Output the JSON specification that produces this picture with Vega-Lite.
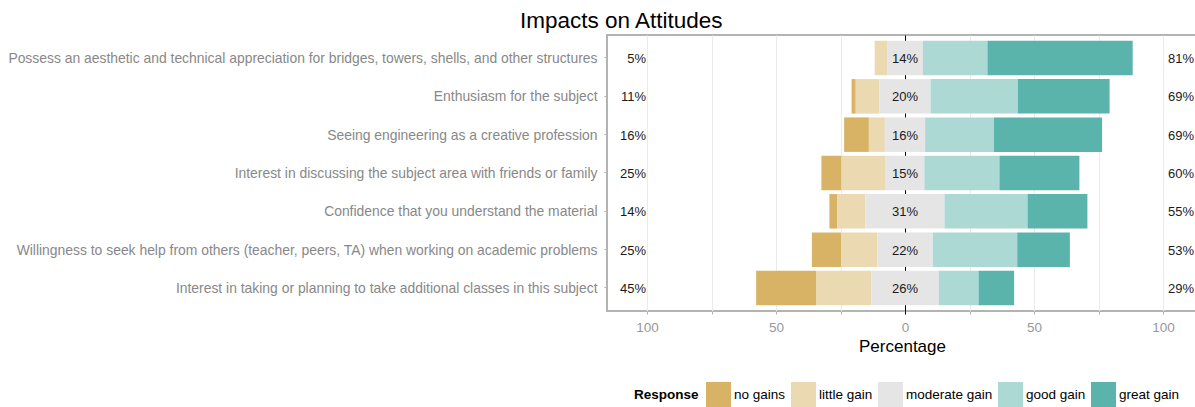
{
  "$schema": "https://vega.github.io/schema/vega-lite/v6.json",
  "autosize": "none",
  "width": 590,
  "height": 276,
  "padding": {"left": 607, "top": 35, "right": 0, "bottom": 96},
  "background": "white",
  "title": {
    "text": "Impacts on Attitudes",
    "anchor": "start",
    "frame": "group",
    "dx": -87,
    "offset": -15,
    "baseline": "alphabetic",
    "fontSize": 22.5,
    "fontWeight": "normal",
    "color": "black"
  },
  "config": {
    "font": "Liberation Sans",
    "view": {"stroke": "#B3B3B3", "strokeWidth": 2},
    "legend": {
      "orient": "none",
      "legendX": 27,
      "legendY": 347,
      "direction": "horizontal",
      "titleOrient": "left",
      "symbolType": "square",
      "symbolSize": 625,
      "symbolStrokeWidth": 0,
      "symbolOpacity": 1,
      "labelFontSize": 13.5,
      "titleFontSize": 13.5,
      "labelOffset": 3,
      "columnPadding": 5,
      "titlePadding": 7,
      "labelColor": "black",
      "titleColor": "black",
      "titleFontWeight": "bold"
    }
  },
  "datasets": {
    "bars": [
      {"Item": "Possess an aesthetic and technical appreciation for bridges, towers, shells, and other structures", "Response": "no gains", "Level": 1, "Percent": 0},
      {"Item": "Possess an aesthetic and technical appreciation for bridges, towers, shells, and other structures", "Response": "little gain", "Level": 2, "Percent": -4.8},
      {"Item": "Possess an aesthetic and technical appreciation for bridges, towers, shells, and other structures", "Response": "moderate gain", "Level": 3, "Percent": -6.95},
      {"Item": "Possess an aesthetic and technical appreciation for bridges, towers, shells, and other structures", "Response": "moderate gain", "Level": 3, "Percent": 6.95},
      {"Item": "Possess an aesthetic and technical appreciation for bridges, towers, shells, and other structures", "Response": "good gain", "Level": 4, "Percent": 25.0},
      {"Item": "Possess an aesthetic and technical appreciation for bridges, towers, shells, and other structures", "Response": "great gain", "Level": 5, "Percent": 56.3},

      {"Item": "Enthusiasm for the subject", "Response": "no gains", "Level": 1, "Percent": -1.6},
      {"Item": "Enthusiasm for the subject", "Response": "little gain", "Level": 2, "Percent": -9.2},
      {"Item": "Enthusiasm for the subject", "Response": "moderate gain", "Level": 3, "Percent": -9.9},
      {"Item": "Enthusiasm for the subject", "Response": "moderate gain", "Level": 3, "Percent": 9.9},
      {"Item": "Enthusiasm for the subject", "Response": "good gain", "Level": 4, "Percent": 33.8},
      {"Item": "Enthusiasm for the subject", "Response": "great gain", "Level": 5, "Percent": 35.6},

      {"Item": "Seeing engineering as a creative profession", "Response": "no gains", "Level": 1, "Percent": -9.6},
      {"Item": "Seeing engineering as a creative profession", "Response": "little gain", "Level": 2, "Percent": -6.2},
      {"Item": "Seeing engineering as a creative profession", "Response": "moderate gain", "Level": 3, "Percent": -7.8},
      {"Item": "Seeing engineering as a creative profession", "Response": "moderate gain", "Level": 3, "Percent": 7.8},
      {"Item": "Seeing engineering as a creative profession", "Response": "good gain", "Level": 4, "Percent": 26.7},
      {"Item": "Seeing engineering as a creative profession", "Response": "great gain", "Level": 5, "Percent": 41.9},

      {"Item": "Interest in discussing the subject area with friends or family", "Response": "no gains", "Level": 1, "Percent": -7.8},
      {"Item": "Interest in discussing the subject area with friends or family", "Response": "little gain", "Level": 2, "Percent": -17.1},
      {"Item": "Interest in discussing the subject area with friends or family", "Response": "moderate gain", "Level": 3, "Percent": -7.5},
      {"Item": "Interest in discussing the subject area with friends or family", "Response": "moderate gain", "Level": 3, "Percent": 7.5},
      {"Item": "Interest in discussing the subject area with friends or family", "Response": "good gain", "Level": 4, "Percent": 29.1},
      {"Item": "Interest in discussing the subject area with friends or family", "Response": "great gain", "Level": 5, "Percent": 31.0},

      {"Item": "Confidence that you understand the material", "Response": "no gains", "Level": 1, "Percent": -3.1},
      {"Item": "Confidence that you understand the material", "Response": "little gain", "Level": 2, "Percent": -10.9},
      {"Item": "Confidence that you understand the material", "Response": "moderate gain", "Level": 3, "Percent": -15.3},
      {"Item": "Confidence that you understand the material", "Response": "moderate gain", "Level": 3, "Percent": 15.3},
      {"Item": "Confidence that you understand the material", "Response": "good gain", "Level": 4, "Percent": 32.2},
      {"Item": "Confidence that you understand the material", "Response": "great gain", "Level": 5, "Percent": 23.2},

      {"Item": "Willingness to seek help from others (teacher, peers, TA) when working on academic problems", "Response": "no gains", "Level": 1, "Percent": -11.3},
      {"Item": "Willingness to seek help from others (teacher, peers, TA) when working on academic problems", "Response": "little gain", "Level": 2, "Percent": -14.0},
      {"Item": "Willingness to seek help from others (teacher, peers, TA) when working on academic problems", "Response": "moderate gain", "Level": 3, "Percent": -10.8},
      {"Item": "Willingness to seek help from others (teacher, peers, TA) when working on academic problems", "Response": "moderate gain", "Level": 3, "Percent": 10.8},
      {"Item": "Willingness to seek help from others (teacher, peers, TA) when working on academic problems", "Response": "good gain", "Level": 4, "Percent": 32.7},
      {"Item": "Willingness to seek help from others (teacher, peers, TA) when working on academic problems", "Response": "great gain", "Level": 5, "Percent": 20.4},

      {"Item": "Interest in taking or planning to take additional classes in this subject", "Response": "no gains", "Level": 1, "Percent": -23.2},
      {"Item": "Interest in taking or planning to take additional classes in this subject", "Response": "little gain", "Level": 2, "Percent": -21.4},
      {"Item": "Interest in taking or planning to take additional classes in this subject", "Response": "moderate gain", "Level": 3, "Percent": -13.1},
      {"Item": "Interest in taking or planning to take additional classes in this subject", "Response": "moderate gain", "Level": 3, "Percent": 13.1},
      {"Item": "Interest in taking or planning to take additional classes in this subject", "Response": "good gain", "Level": 4, "Percent": 15.4},
      {"Item": "Interest in taking or planning to take additional classes in this subject", "Response": "great gain", "Level": 5, "Percent": 13.8}
    ],
    "labels": [
      {"Item": "Possess an aesthetic and technical appreciation for bridges, towers, shells, and other structures", "Low": "5%", "Neutral": "14%", "High": "81%"},
      {"Item": "Enthusiasm for the subject", "Low": "11%", "Neutral": "20%", "High": "69%"},
      {"Item": "Seeing engineering as a creative profession", "Low": "16%", "Neutral": "16%", "High": "69%"},
      {"Item": "Interest in discussing the subject area with friends or family", "Low": "25%", "Neutral": "15%", "High": "60%"},
      {"Item": "Confidence that you understand the material", "Low": "14%", "Neutral": "31%", "High": "55%"},
      {"Item": "Willingness to seek help from others (teacher, peers, TA) when working on academic problems", "Low": "25%", "Neutral": "22%", "High": "53%"},
      {"Item": "Interest in taking or planning to take additional classes in this subject", "Low": "45%", "Neutral": "26%", "High": "29%"}
    ]
  },
  "encoding": {
    "y": {
      "field": "Item",
      "type": "nominal",
      "title": null,
      "sort": [
        "Possess an aesthetic and technical appreciation for bridges, towers, shells, and other structures",
        "Enthusiasm for the subject",
        "Seeing engineering as a creative profession",
        "Interest in discussing the subject area with friends or family",
        "Confidence that you understand the material",
        "Willingness to seek help from others (teacher, peers, TA) when working on academic problems",
        "Interest in taking or planning to take additional classes in this subject"
      ],
      "scale": {"paddingInner": 0.1, "paddingOuter": 0.15},
      "axis": {
        "domain": false,
        "ticks": true,
        "tickSize": 3,
        "tickColor": "#B3B3B3",
        "labelPadding": 7,
        "labelOffset": 1,
        "labelFontSize": 13.9,
        "labelColor": "#888888",
        "labelLimit": 1000
      }
    }
  },
  "layer": [
    {
      "data": {"name": "bars"},
      "transform": [{"filter": "datum.Percent < 0"}],
      "mark": {"type": "bar"},
      "encoding": {
        "x": {
          "field": "Percent",
          "type": "quantitative",
          "stack": "zero",
          "title": "Percentage",
          "scale": {"domain": [-115.504, 113.178], "nice": false, "zero": false},
          "axis": {
            "values": [-100, -75, -50, -25, 0, 25, 50, 75, 100],
            "labelExpr": "datum.value % 50 === 0 ? format(abs(datum.value), 'd') : ''",
            "grid": true,
            "gridColor": {"condition": {"test": "datum.value === 0", "value": "black"}, "value": "#EBEBEB"},
            "gridWidth": 1,
            "domain": false,
            "ticks": true,
            "tickSize": 3,
            "tickColor": {"condition": {"test": "datum.value === 0", "value": "black"}, "value": "#B3B3B3"},
            "labelColor": "#999999",
            "labelFontSize": 13.5,
            "labelPadding": 6,
            "titleFontSize": 17,
            "titleFontWeight": "normal",
            "titleColor": "black",
            "titlePadding": 5
          }
        },
        "color": {
          "field": "Response",
          "type": "nominal",
          "title": "Response",
          "scale": {
            "domain": ["no gains", "little gain", "moderate gain", "good gain", "great gain"],
            "range": ["#D8B365", "#EBD9B2", "#E5E5E5", "#ADD9D5", "#5AB4AC"]
          }
        },
        "order": {"field": "Level", "sort": "descending"}
      }
    },
    {
      "data": {"name": "bars"},
      "transform": [{"filter": "datum.Percent > 0"}],
      "mark": {"type": "bar"},
      "encoding": {
        "x": {"field": "Percent", "type": "quantitative", "stack": "zero", "title": "Percentage"},
        "color": {"field": "Response", "type": "nominal", "title": "Response"},
        "order": {"field": "Level", "sort": "ascending"}
      }
    },
    {
      "data": {"name": "labels"},
      "mark": {"type": "text", "align": "right", "dx": -1, "dy": 1, "fontSize": 13, "color": "#1A1A1A"},
      "encoding": {
        "x": {"datum": -100, "type": "quantitative", "title": "Percentage"},
        "text": {"field": "Low"}
      }
    },
    {
      "data": {"name": "labels"},
      "mark": {"type": "text", "align": "center", "dy": 1, "fontSize": 13, "color": "#1A1A1A"},
      "encoding": {
        "x": {"datum": 0, "type": "quantitative", "title": "Percentage"},
        "text": {"field": "Neutral"}
      }
    },
    {
      "data": {"name": "labels"},
      "mark": {"type": "text", "align": "left", "dx": 5, "dy": 1, "fontSize": 13, "color": "#1A1A1A"},
      "encoding": {
        "x": {"datum": 100, "type": "quantitative", "title": "Percentage"},
        "text": {"field": "High"}
      }
    }
  ]
}
